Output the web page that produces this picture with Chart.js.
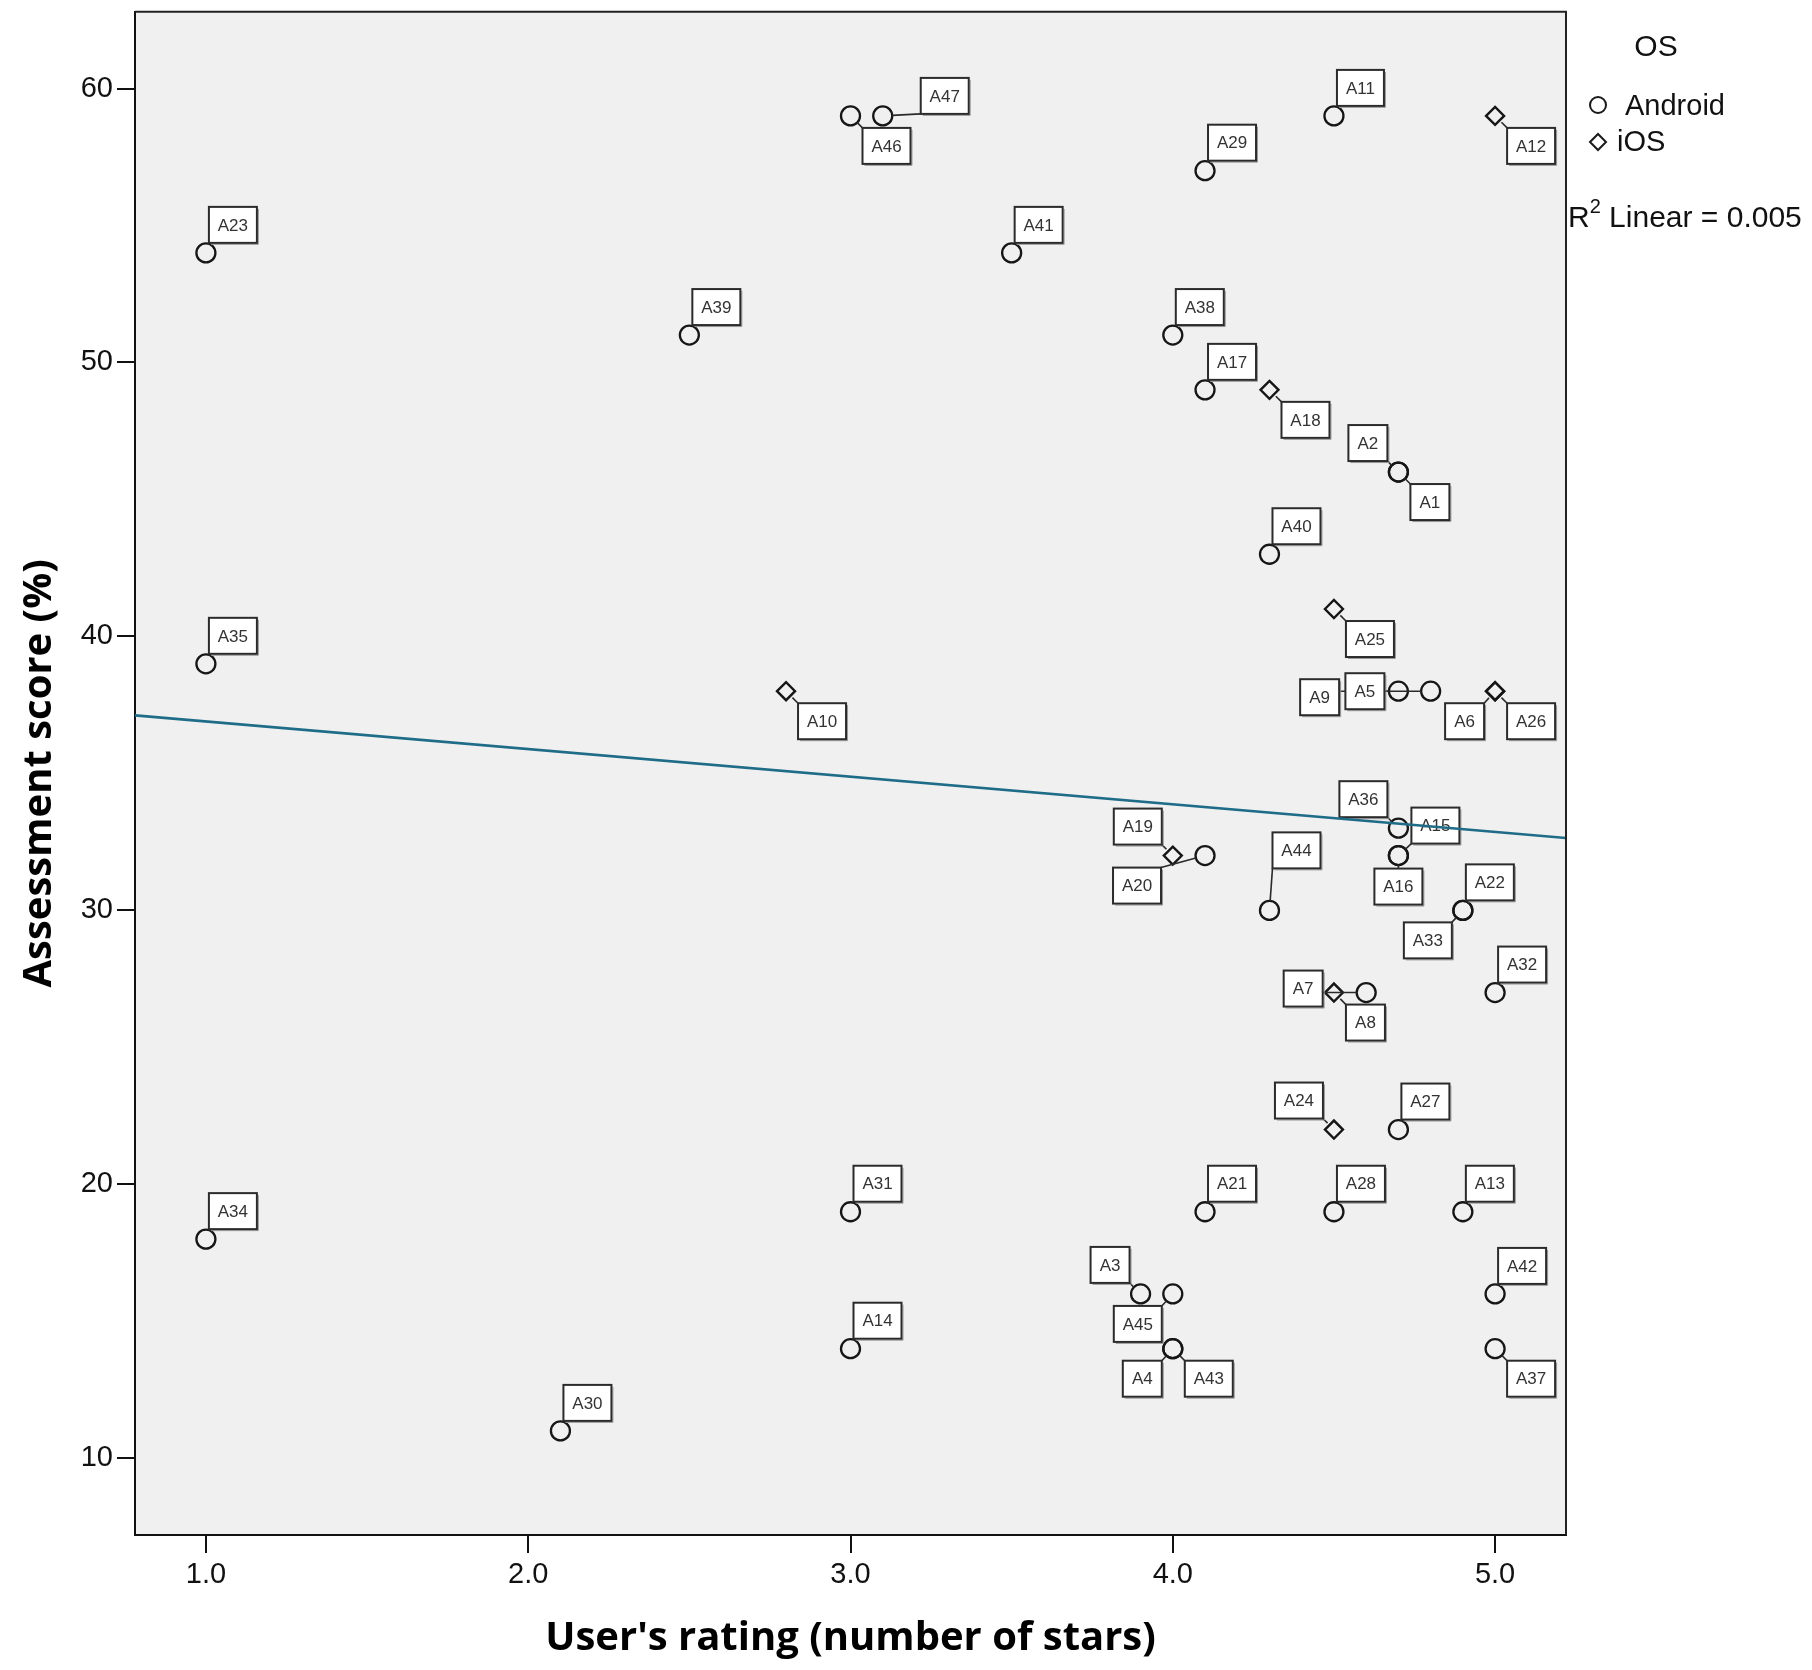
<!DOCTYPE html>
<html><head><meta charset="utf-8">
<script src="https://cdn.jsdelivr.net/npm/chart.js@4.4.1/dist/chart.umd.min.js"></script>
<style>html,body{margin:0;padding:0;background:#fff}canvas{display:block}</style>
</head><body>
<canvas id="c" width="1812" height="1670"></canvas>
<script>
// ---------------- data ----------------
const appNames = ['A1','A2','A3','A4','A5','A6','A7','A8','A9','A10','A11','A12','A13','A14','A15','A16','A17','A18','A19','A20','A21','A22','A23','A24','A25','A26','A27','A28','A29','A30','A31','A32','A33','A34','A35','A36','A37','A38','A39','A40','A41','A42','A43','A44','A45','A46','A47'];
const userRating = [4.7,4.7,3.9,4.0,4.7,5.0,4.6,4.5,4.8,2.8,4.5,5.0,4.9,3.0,4.7,4.7,4.1,4.3,4.0,4.1,4.1,4.9,1.0,4.5,4.5,5.0,4.7,4.5,4.1,2.1,3.0,5.0,4.9,1.0,1.0,4.7,5.0,4.0,2.5,4.3,3.5,5.0,4.0,4.3,4.0,3.0,3.1];
const assessmentScore = [46,46,16,14,38,38,27,27,38,38,59,59,19,14,32,32,49,49,32,32,19,30,54,22,41,38,22,19,57,11,19,27,30,18,39,33,14,51,51,43,54,16,14,30,16,59,59];
const appOS = ['Android','Android','Android','Android','Android','iOS','Android','iOS','Android','iOS','Android','iOS','Android','Android','Android','Android','Android','iOS','iOS','Android','Android','Android','Android','iOS','iOS','iOS','Android','Android','Android','Android','Android','Android','Android','Android','Android','Android','Android','Android','Android','Android','Android','Android','Android','Android','Android','Android','Android'];
const osCategories = ['Android','iOS'];
const xTicks = [1,2,3,4,5];
const yTicks = [10,20,30,40,50,60];
const fitX = [0.78, 5.22];
const fitY = [37.12, 32.64];
const rSquared = '0.005';
const xTitle = "User's rating (number of stars)";
const yTitle = 'Assessment score (%)';

// ---------------- layout / style ----------------
const FONT = "'Liberation Sans', Arial, sans-serif";
const TITLE_FONT = "'Open Sans', 'DejaVu Sans', sans-serif";
const labelPlace = {
  A1:'dr',A2:'ul',A3:'ul',A4:'dl',A5:'l',A6:'dl',A7:[-63,-4],A8:'dr',A9:[-111,6],A10:'dr',
  A11:'ur',A12:'dr',A13:'ur',A14:'ur',A15:[37,-30],A16:'d',A17:'ur',A18:'dr',A19:'ul',A20:[-68,30],
  A21:'ur',A22:'ur',A23:'ur',A24:'ul',A25:'dr',A26:'dr',A27:'ur',A28:'ur',A29:'ur',A30:'ur',
  A31:'ur',A32:'ur',A33:'dl',A34:'ur',A35:'ur',A36:'ul',A37:'dr',A38:'ur',A39:'ur',A40:'ur',
  A41:'ur',A42:'ur',A43:'dr',A44:[27,-60],A45:'dl',A46:'dr',A47:[62,-20]
};

const seriesPoints = osCategories.map(os => {
  const pts = [];
  appNames.forEach((n, i) => { if (appOS[i] === os) pts.push({x: userRating[i], y: assessmentScore[i], name: n}); });
  return pts;
});
const fitPoints = fitX.map((x, i) => ({x, y: fitY[i]}));

function boxRect(place, cx, cy, w, h) {
  if (Array.isArray(place)) return {l: cx + place[0] - w/2, t: cy + place[1] - h/2};
  switch (place) {
    case 'ur': return {l: cx + 3, t: cy - 10 - h};
    case 'dr': return {l: cx + 12, t: cy + 12};
    case 'ul': return {l: cx - 11 - w, t: cy - 11 - h};
    case 'dl': return {l: cx - 11 - w, t: cy + 12};
    case 'l':  return {l: cx - 14 - w, t: cy - h/2};
    case 'd':  return {l: cx - w/2, t: cy + 13};
  }
  return {l: cx + 3, t: cy - 10 - h};
}

const bgPlugin = {
  id: 'bg',
  beforeDraw(chart) {
    const {ctx, chartArea: a} = chart;
    ctx.save();
    ctx.fillStyle = '#fff';
    ctx.fillRect(0, 0, chart.width, chart.height);
    ctx.fillStyle = '#f0f0f0';
    ctx.fillRect(a.left, a.top, a.right - a.left, a.bottom - a.top);
    ctx.restore();
  }
};

const labelPlugin = {
  id: 'pointLabels',
  beforeDatasetDraw(chart, args) {
    if (chart.data.datasets[args.index].id !== 'fit') return;
    const {ctx} = chart;
    const xs = chart.scales.x, ys = chart.scales.y;
    ctx.save();
    ctx.font = `17px ${FONT}`;
    const boxes = appNames.map((n, i) => {
      const cx = xs.getPixelForValue(userRating[i]);
      const cy = ys.getPixelForValue(assessmentScore[i]);
      const w = Math.round(ctx.measureText(n).width + 18);
      const h = 36;
      const r = boxRect(labelPlace[n], cx, cy, w, h);
      return {n, cx, cy, w, h, l: r.l, t: r.t, rad: appOS[i] === 'iOS' ? 9 : 9.5};
    });
    // leader lines
    ctx.strokeStyle = '#2a2a2a';
    ctx.lineWidth = 1.6;
    boxes.forEach(b => {
      const nx = Math.min(Math.max(b.cx, b.l), b.l + b.w);
      const ny = Math.min(Math.max(b.cy, b.t), b.t + b.h);
      const dx = nx - b.cx, dy = ny - b.cy;
      const d = Math.hypot(dx, dy);
      if (d > b.rad + 0.5) {
        ctx.beginPath();
        ctx.moveTo(b.cx + dx / d * b.rad, b.cy + dy / d * b.rad);
        ctx.lineTo(nx, ny);
        ctx.stroke();
      }
    });
    // boxes
    boxes.forEach(b => {
      ctx.fillStyle = '#fff';
      ctx.fillRect(b.l, b.t, b.w, b.h);
      ctx.strokeStyle = '#9a9a9a';
      ctx.lineWidth = 1;
      ctx.beginPath();
      ctx.moveTo(b.l + 2, b.t + b.h + 1.5);
      ctx.lineTo(b.l + b.w + 1.5, b.t + b.h + 1.5);
      ctx.lineTo(b.l + b.w + 1.5, b.t + 2);
      ctx.stroke();
      ctx.strokeStyle = '#2b2b2b';
      ctx.lineWidth = 2;
      ctx.strokeRect(b.l, b.t, b.w, b.h);
      ctx.fillStyle = '#333';
      ctx.textAlign = 'center';
      ctx.textBaseline = 'middle';
      ctx.fillText(b.n, b.l + b.w / 2, b.t + b.h / 2 + 1);
    });
    ctx.restore();
  }
};

const framePlugin = {
  id: 'frame',
  afterDraw(chart) {
    const {ctx, chartArea: a} = chart;
    ctx.save();
    ctx.strokeStyle = '#222';
    ctx.lineWidth = 2;
    ctx.beginPath();
    ctx.moveTo(a.left, a.top);
    ctx.lineTo(a.right, a.top);
    ctx.lineTo(a.right, a.bottom);
    ctx.stroke();
    // legend
    const lx = a.right;
    ctx.fillStyle = '#111';
    ctx.textBaseline = 'middle';
    ctx.font = `30px ${FONT}`;
    ctx.textAlign = 'center';
    ctx.fillText('OS', lx + 90, 48);
    ctx.textAlign = 'left';
    ctx.font = `29px ${FONT}`;
    ctx.strokeStyle = '#1a1a1a';
    ctx.lineWidth = 2;
    // Android marker
    ctx.beginPath();
    ctx.arc(lx + 32, 105, 8, 0, Math.PI * 2);
    ctx.stroke();
    ctx.fillText(osCategories[0], lx + 59, 107);
    // iOS marker
    ctx.beginPath();
    ctx.moveTo(lx + 24, 142); ctx.lineTo(lx + 32, 134); ctx.lineTo(lx + 40, 142); ctx.lineTo(lx + 32, 150); ctx.closePath();
    ctx.stroke();
    ctx.fillText(osCategories[1], lx + 51, 143);
    // R^2
    ctx.textBaseline = 'alphabetic';
    let x = lx + 2;
    ctx.font = `30px ${FONT}`;
    ctx.fillText('R', x, 227);
    x += ctx.measureText('R').width;
    ctx.font = `20px ${FONT}`;
    ctx.fillText('2', x, 213);
    x += ctx.measureText('2').width;
    ctx.font = `30px ${FONT}`;
    ctx.fillText(' Linear = ' + rSquared, x, 227);
    ctx.restore();
  }
};

new Chart(document.getElementById('c'), {
  type: 'scatter',
  data: {
    datasets: [
      {id: 'fit', type: 'line', label: 'fit', data: fitPoints, borderColor: '#1f6c88', borderWidth: 2.6,
       pointRadius: 0, fill: false, order: 0, tension: 0},
      {label: osCategories[0], data: seriesPoints[0], pointStyle: 'circle', pointRadius: 9.5,
       borderColor: '#161616', backgroundColor: 'rgba(0,0,0,0)', borderWidth: 2.3, order: 1},
      {label: osCategories[1], data: seriesPoints[1], pointStyle: 'rectRot', pointRadius: 9,
       borderColor: '#161616', backgroundColor: 'rgba(0,0,0,0)', borderWidth: 2.4, order: 1}
    ]
  },
  options: {
    responsive: false,
    animation: false,
    events: [],
    layout: {padding: {top: 10, right: 246, left: 0, bottom: 0}},
    plugins: {legend: {display: false}, tooltip: {enabled: false}},
    scales: {
      x: {
        type: 'linear', min: 0.78, max: 5.22,
        afterBuildTicks: s => { s.ticks = xTicks.map(v => ({value: v})); },
        afterFit: s => { s.height = 135; s.paddingLeft = 0; s.paddingRight = 0; },
        ticks: {callback: v => Number(v).toFixed(1), color: '#111', font: {family: FONT, size: 29}, padding: 5, maxRotation: 0},
        grid: {display: true, drawOnChartArea: false, drawTicks: true, tickLength: 18, color: '#111', lineWidth: 2},
        border: {display: true, color: '#111', width: 2},
        title: {display: true, text: xTitle, color: '#000', font: {family: TITLE_FONT, size: 40, weight: 'bold'}, padding: {top: 0, bottom: 7}}
      },
      y: {
        type: 'linear', min: 7.2, max: 62.8,
        afterBuildTicks: s => { s.ticks = yTicks.map(v => ({value: v})); },
        afterFit: s => { s.width = 135; s.paddingTop = 0; s.paddingBottom = 0; },
        ticks: {color: '#111', font: {family: FONT, size: 29}, padding: 4},
        grid: {display: true, drawOnChartArea: false, drawTicks: true, tickLength: 18, color: '#111', lineWidth: 2},
        border: {display: true, color: '#111', width: 2},
        title: {display: true, text: yTitle, color: '#000', font: {family: TITLE_FONT, size: 40, weight: 'bold'}, padding: {top: 16, bottom: 0}}
      }
    }
  },
  plugins: [bgPlugin, labelPlugin, framePlugin]
});
</script>
</body></html>
